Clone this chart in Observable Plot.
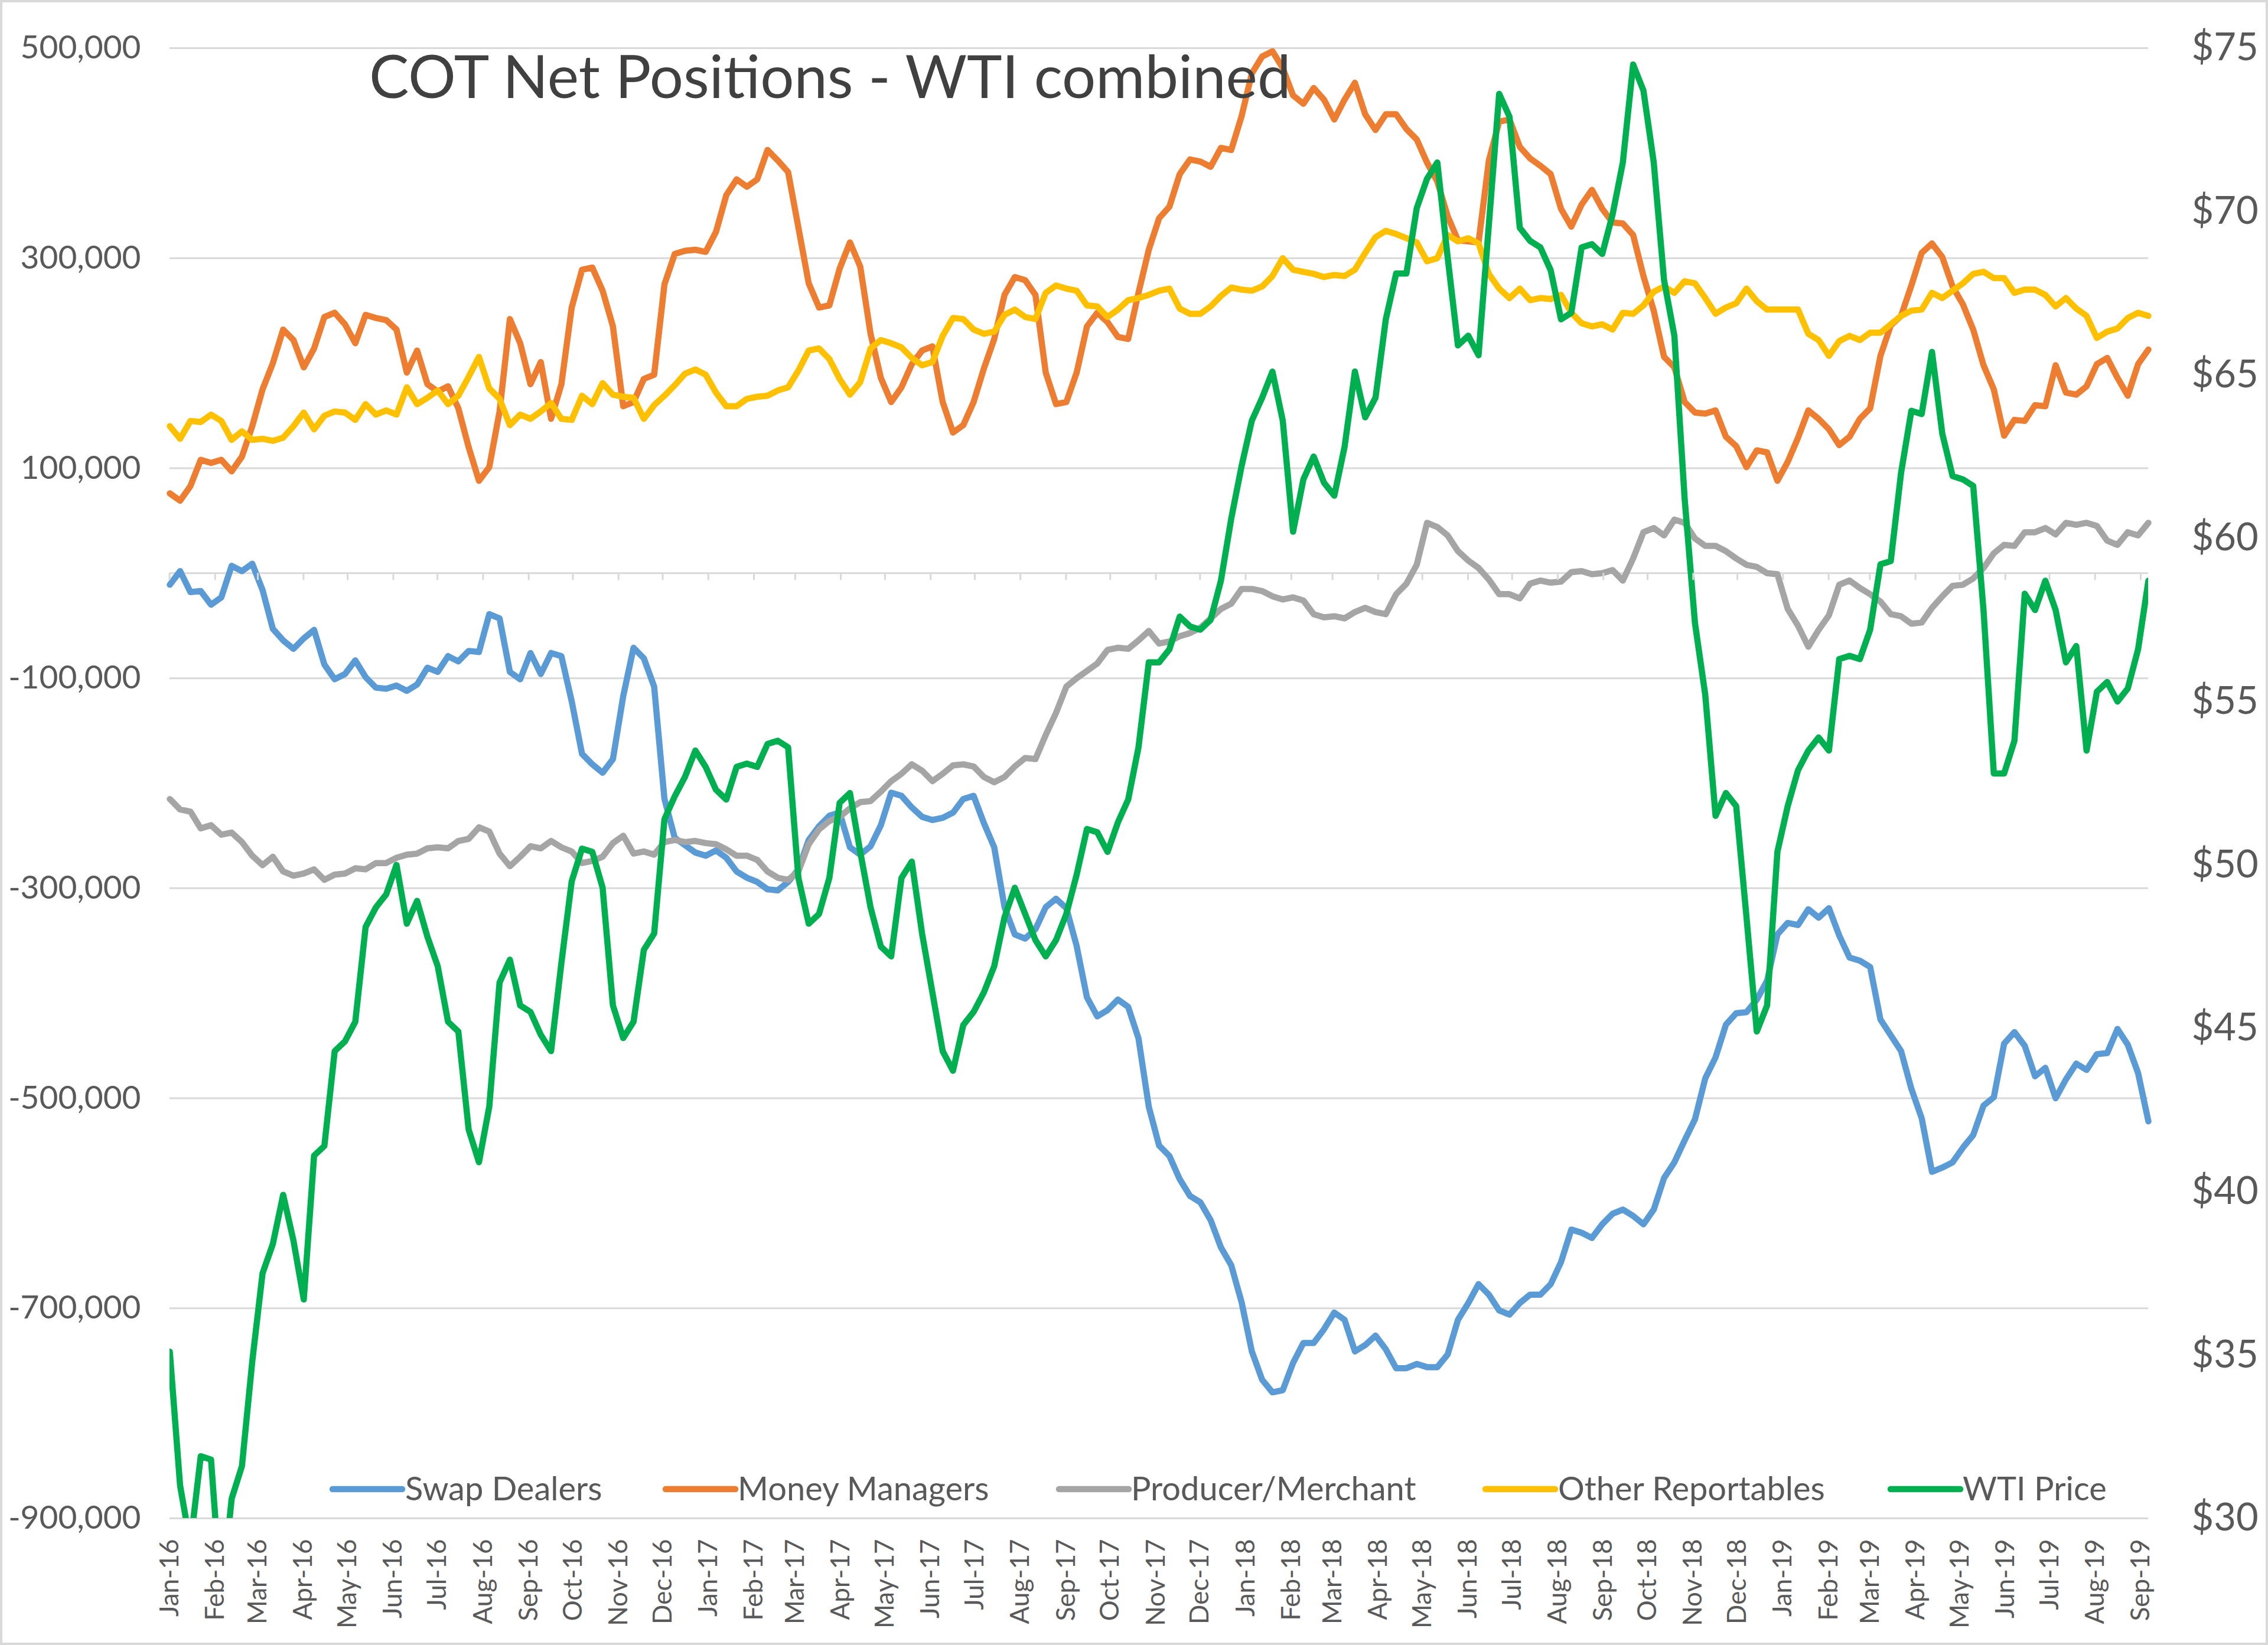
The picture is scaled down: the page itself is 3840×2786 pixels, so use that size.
<!DOCTYPE html>
<html><head><meta charset="utf-8">
<script src="https://cdn.jsdelivr.net/npm/d3@7"></script>
<script src="https://cdn.jsdelivr.net/npm/@observablehq/plot@0.6"></script>
<style>
html,body{margin:0;padding:0;background:#fff;}
#chart svg{display:block;background:#fff;outline:4px solid #d9d9d9;outline-offset:-4px;}
</style></head><body><div id="chart"></div>
<script>
// ---- DATA (weekly COT reports, Tuesdays starting 2016-01-05; net positions in thousands of contracts) ----
const firstReportDate = "2016-01-05";
const swapDealers = [-11,2,-18,-17,-30,-23,7,2,9,-16,-53,-64,-72,-62,-54,-87,-101,-96,-83,-99,-109,-110,-107,-112,-106,-90,-94,-79,-84,-74,-75,-39,-43,-94,-101,-76,-96,-76,-79,-122,-172,-182,-190,-177,-117,-71,-81,-108,-215,-252,-259,-266,-269,-264,-271,-284,-290,-294,-301,-302,-294,-282,-254,-241,-231,-228,-261,-268,-260,-240,-209,-212,-223,-232,-235,-233,-228,-215,-212,-238,-261,-318,-344,-348,-339,-318,-310,-319,-355,-404,-422,-416,-406,-413,-443,-508,-545,-555,-577,-593,-599,-616,-642,-659,-694,-741,-768,-780,-778,-752,-733,-733,-720,-704,-711,-741,-735,-726,-739,-757,-757,-753,-756,-756,-744,-711,-695,-677,-687,-702,-706,-695,-687,-687,-677,-656,-625,-628,-633,-620,-610,-606,-612,-620,-606,-576,-561,-540,-520,-481,-461,-430,-419,-418,-406,-388,-344,-333,-335,-320,-328,-319,-345,-366,-369,-375,-425,-440,-455,-491,-519,-570,-566,-561,-547,-535,-507,-499,-448,-437,-450,-479,-471,-500,-482,-467,-473,-458,-457,-434,-449,-476,-522];
const moneyManagers = [76,69,83,108,105,108,97,111,140,175,200,232,222,196,214,244,248,237,219,246,243,241,232,191,212,180,173,178,157,120,88,101,154,242,219,180,201,147,180,253,289,291,269,235,159,163,185,189,275,304,307,308,306,325,360,375,368,375,403,393,382,329,276,253,255,290,315,292,228,186,163,177,199,212,216,163,134,141,163,195,223,265,282,279,265,191,161,163,191,235,248,239,225,223,267,308,338,349,380,394,392,387,405,403,435,476,492,497,481,455,447,462,451,432,451,467,437,422,437,437,423,413,391,373,340,317,316,315,393,430,432,406,395,388,380,347,330,351,365,347,334,333,322,283,250,206,196,163,153,152,155,130,121,101,117,115,88,106,129,155,147,137,122,130,147,157,207,236,245,274,305,314,301,273,256,232,198,175,131,146,145,160,159,198,172,170,178,199,205,186,169,199,213];
const producerMerchant = [-215,-225,-227,-243,-240,-249,-247,-256,-269,-278,-270,-284,-288,-286,-282,-292,-287,-286,-281,-282,-276,-276,-271,-268,-267,-262,-261,-262,-255,-253,-242,-246,-267,-279,-270,-260,-262,-255,-261,-265,-276,-274,-270,-257,-250,-267,-265,-268,-256,-254,-256,-255,-257,-258,-263,-269,-269,-273,-284,-290,-292,-284,-258,-244,-236,-232,-224,-218,-217,-208,-198,-191,-182,-188,-198,-191,-183,-182,-184,-194,-199,-194,-184,-176,-177,-154,-133,-108,-100,-93,-86,-73,-71,-72,-64,-55,-67,-65,-60,-57,-52,-43,-34,-29,-15,-15,-17,-22,-25,-23,-26,-39,-42,-41,-43,-37,-33,-37,-39,-20,-10,8,48,44,36,21,12,5,-6,-20,-20,-24,-10,-7,-9,-8,1,2,-1,0,3,-7,14,39,43,36,51,48,33,26,26,21,14,8,6,0,-1,-34,-50,-70,-54,-40,-11,-7,-14,-20,-27,-39,-41,-48,-47,-33,-22,-12,-11,-5,5,19,27,26,39,39,43,37,48,46,48,45,31,27,39,36,48];
const otherReportables = [140,128,145,144,151,145,127,135,127,128,126,129,140,153,137,150,154,153,146,161,151,155,151,177,161,167,174,161,169,187,206,176,166,141,151,147,154,162,147,146,169,161,181,170,168,167,147,160,169,179,190,194,189,172,159,159,166,168,169,174,177,193,212,214,204,185,170,182,214,222,219,215,205,198,201,226,243,242,232,228,230,246,251,244,242,267,274,271,269,255,254,244,251,260,262,265,269,271,252,247,247,254,264,272,270,269,273,283,300,289,287,285,282,284,283,289,305,320,326,323,319,315,297,300,322,316,319,314,285,271,262,271,260,262,261,265,248,238,235,237,232,248,247,255,268,273,267,278,276,262,247,253,257,271,259,251,251,251,251,228,222,207,221,226,222,229,229,237,245,250,251,267,262,269,276,285,287,281,281,267,270,270,265,254,262,252,245,224,230,233,243,248,245];
const wtiPrice = [35.1,31.0,29.2,31.9,31.8,27.5,30.6,31.6,34.8,37.5,38.4,39.9,38.5,36.7,41.1,41.4,44.3,44.6,45.2,48.1,48.7,49.1,50.0,48.2,48.9,47.8,46.9,45.2,44.9,41.9,40.9,42.6,46.4,47.1,45.7,45.5,44.8,44.3,47.0,49.5,50.5,50.4,49.3,45.7,44.7,45.2,47.4,47.9,51.4,52.1,52.7,53.5,53.0,52.3,52.0,53.0,53.1,53.0,53.7,53.8,53.6,49.6,48.2,48.5,49.6,51.9,52.2,50.4,48.7,47.5,47.2,49.6,50.1,47.9,46.1,44.3,43.7,45.1,45.5,46.1,46.9,48.4,49.3,48.5,47.7,47.2,47.7,48.5,49.7,51.1,51.0,50.4,51.3,52.0,53.6,56.2,56.2,56.6,57.6,57.3,57.2,57.5,58.7,60.6,62.2,63.6,64.3,65.1,63.6,60.2,61.8,62.5,61.7,61.3,62.8,65.1,63.7,64.3,66.7,68.1,68.1,70.1,71.0,71.5,68.6,65.9,66.2,65.6,69.6,73.6,72.9,69.5,69.1,68.9,68.2,66.7,66.9,68.9,69.0,68.7,69.9,71.5,74.5,73.7,71.5,67.9,66.2,61.2,57.4,55.2,51.5,52.2,51.8,48.4,44.9,45.7,50.4,51.8,52.9,53.5,53.9,53.5,56.3,56.4,56.3,57.2,59.2,59.3,62.0,63.9,63.8,65.7,63.2,61.9,61.8,61.6,57.8,52.8,52.8,53.8,58.3,57.8,58.7,57.8,56.2,56.7,53.5,55.3,55.6,55.0,55.4,56.6,58.7];

const seriesNames = ["Swap Dealers", "Money Managers", "Producer/Merchant", "Other Reportables", "WTI Price"];
const seriesColors = ["#5B9BD5", "#ED7D31", "#A5A5A5", "#FFC000", "#00B050"];
const leftTickValues = [500000, 300000, 100000, -100000, -300000, -500000, -700000, -900000];
const leftTickLabels = ["500,000", "300,000", "100,000", "-100,000", "-300,000", "-500,000", "-700,000", "-900,000"];
const rightTickPrices = [75, 70, 65, 60, 55, 50, 45, 40, 35, 30];
const rightTickLabels = ["$75", "$70", "$65", "$60", "$55", "$50", "$45", "$40", "$35", "$30"];
const chartTitle = "COT Net Positions - WTI combined";
const monthTickCount = 45; // Jan-16 .. Sep-19

// ---- BUILD ----
const W = 3840, H = 2786;
const start = d3.isoParse(firstReportDate);
const dates = swapDealers.map((_, i) => d3.utcDay.offset(start, 7 * i));
const monthTicks = d3.range(monthTickCount).map(k => d3.utcMonth.offset(start, k));
const yDomain = [-900000, 500000], pDomain = [30, 75];
const priceToY = p => yDomain[0] + (p - pDomain[0]) * (yDomain[1] - yDomain[0]) / (pDomain[1] - pDomain[0]);

const positionSeries = [swapDealers, moneyManagers, producerMerchant, otherReportables];
const tables = positionSeries.map(arr => arr.map((v, i) => ({date: dates[i], value: v * 1000})));
const wtiTable = wtiPrice.map((p, i) => ({date: dates[i], price: p}));

const LW = 10.5;
const lineStyle = {strokeWidth: LW, strokeLinejoin: "round", strokeLinecap: "round"};
const gridColor = "#d9d9d9";
const textColor = "#595959";
const FONT = "Lato, 'Open Sans', sans-serif";

const chart = Plot.plot({
  width: W, height: H,
  marginTop: 81, marginRight: 203, marginBottom: 215, marginLeft: 287,
  style: {fontFamily: FONT, color: textColor, background: "#fff"},
  x: {type: "utc", domain: [dates[0], dates[dates.length - 1]], axis: null},
  y: {domain: yDomain, axis: null},
  marks: [
    Plot.ruleY(leftTickValues, {stroke: gridColor, strokeWidth: 3}),
    Plot.ruleY([0], {stroke: gridColor, strokeWidth: 3}),
    ...tables.map((t, k) => Plot.line(t, {x: "date", y: "value", stroke: seriesColors[k], ...lineStyle})),
    Plot.line(wtiTable, {x: "date", y: d => priceToY(d.price), stroke: seriesColors[4], clip: true, ...lineStyle}),
    Plot.axisY({anchor: "left", ticks: leftTickValues, tickSize: 0, tickPadding: 49, fontSize: 55, label: null,
      tickFormat: d => leftTickLabels[leftTickValues.indexOf(d)]}),
    Plot.axisY({anchor: "right", ticks: rightTickPrices.map(priceToY), tickSize: 0, tickPadding: 73, fontSize: 65, label: null,
      tickFormat: d => rightTickLabels[rightTickPrices.findIndex(p => Math.abs(priceToY(p) - d) < 1)]}),
    Plot.axisX({anchor: "bottom", ticks: monthTicks, tickFormat: d3.utcFormat("%b-%y"), tickRotate: -90,
      tickSize: 0, tickPadding: 35, fontSize: 44, label: null})
  ]
});

// decorations drawn with the plot's own scales
const xs = chart.scale("x"), ys = chart.scale("y");
const svg = d3.select(chart);
const y0 = ys.apply(0);
svg.append("g").selectAll("line").data(monthTicks).join("line")
  .attr("x1", d => xs.apply(d)).attr("x2", d => xs.apply(d))
  .attr("y1", y0).attr("y2", y0 + 12)
  .attr("stroke", gridColor).attr("stroke-width", 3);

svg.append("text").text(chartTitle)
  .attr("x", 625).attr("y", 166)
  .attr("text-anchor", "start")
  .attr("font-family", FONT)
  .attr("font-size", 101).attr("fill", "#404040");

const legendSwatchX = [563, 1127, 1793, 2515, 3201];
const legendTextX = [686, 1249, 1915, 2638, 3323];
const lg = svg.append("g").attr("text-anchor", "start");
seriesNames.forEach((name, k) => {
  lg.append("line").attr("x1", legendSwatchX[k]).attr("x2", legendSwatchX[k] + 118)
    .attr("y1", 2522).attr("y2", 2522)
    .attr("stroke", seriesColors[k]).attr("stroke-width", LW).attr("stroke-linecap", "round");
  lg.append("text").text(name).attr("x", legendTextX[k]).attr("y", 2541)
    .attr("text-anchor", "start")
    .attr("font-family", FONT)
    .attr("font-size", 56).attr("fill", textColor);
});

document.getElementById("chart").appendChild(chart);
</script></body></html>
